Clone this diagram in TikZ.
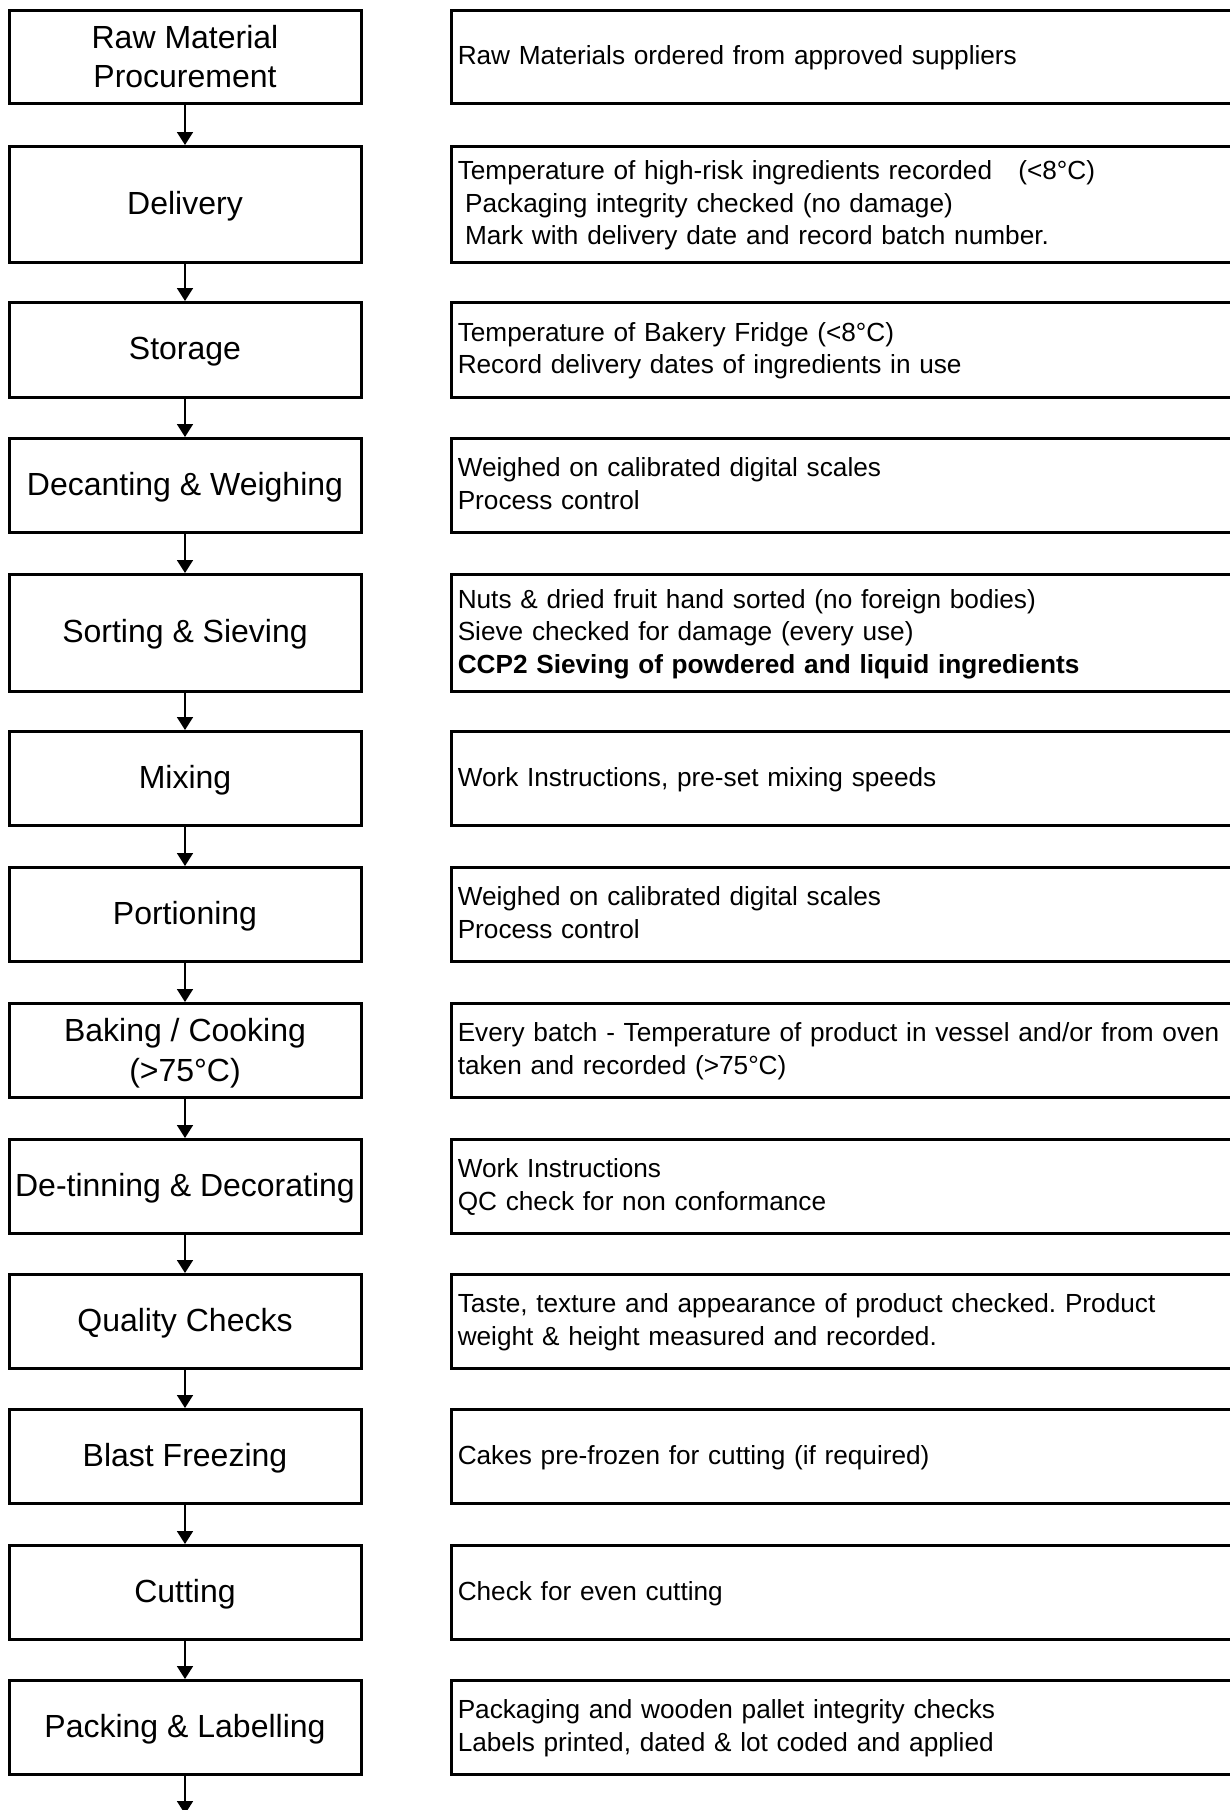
\documentclass[tikz,border=0pt]{standalone}
\usepackage{fontspec}
\setmainfont{Liberation Sans}
\frenchspacing
\usetikzlibrary{arrows.meta}
\newcommand\lfontsz{\fontsize{16pt}{19.8pt}\selectfont}
\newcommand\rfontsz{\fontsize{13.1pt}{16.3pt}\selectfont}
\newcommand\topstrut{\rule{0pt}{14.48pt}}
\newcommand\botstrut{\rule[-3.39pt]{0pt}{0pt}}
\tikzset{
  lmbox/.style={draw, line width=1.5pt, minimum width=176pt, inner sep=0pt,
    align=center, font=\lfontsz},
  lbox/.style={lmbox,
    execute at begin node={\rule{0pt}{13.2pt}},
    execute at end node={\rule[-3.39pt]{0pt}{0pt}}},
  rbox/.style={draw, line width=1.5pt, minimum width=394.25pt, inner xsep=2.1pt,
    inner ysep=0pt, text width=388pt, align=left, font=\rfontsz,
    execute at begin node={\rule{0pt}{10.6pt}},
    execute at end node={\rule[-3pt]{0pt}{0pt}}},
  flow/.style={line width=0.9pt, -{Triangle[length=6.5pt,width=8pt]}},
}
\newcommand\leadsp{\hspace*{0.278em}}
\begin{document}
\begin{tikzpicture}[x=0.5pt,y=-0.5pt]
\useasboundingbox (0,0) rectangle (1230,1810);
\fill[white] (0,0) rectangle (1230,1810);
\clip (0,0) rectangle (1230,1810);
% left boxes
\node[lmbox, minimum height=46.5pt] (b1) at (185,57) {\topstrut Raw Material\\Procurement\botstrut};
\node[lbox, minimum height=58pt] (b2) at (185,204.5) {Delivery};
\node[lbox, minimum height=47.5pt] (b3) at (185,350) {Storage};
\node[lbox, minimum height=47pt] (b4) at (185,485.5) {Decanting \& Weighing};
\node[lbox, minimum height=58.5pt] (b5) at (185,633) {Sorting \& Sieving};
\node[lbox, minimum height=47pt] (b6) at (185,778.5) {Mixing};
\node[lbox, minimum height=47pt] (b7) at (185,914.5) {Portioning};
\node[lmbox, minimum height=47pt] (b8) at (185,1050.5) {\topstrut Baking / Cooking\\(>75°C)\botstrut};
\node[lbox, minimum height=47pt] (b9) at (185,1186.5) {De-tinning \& Decorating};
\node[lbox, minimum height=47pt] (b10) at (185,1321.5) {Quality Checks};
\node[lbox, minimum height=47pt] (b11) at (185,1456.5) {Blast Freezing};
\node[lbox, minimum height=47pt] (b12) at (185,1592.5) {Cutting};
\node[lbox, minimum height=47pt] (b13) at (185,1727.5) {Packing \& Labelling};
% right boxes
\node[rbox, minimum height=46.5pt] (r1) at (845.75,57) {Raw Materials ordered from approved suppliers};
\node[rbox, minimum height=58pt] (r2) at (845.75,204.5) {Temperature of high-risk ingredients recorded\ \ \ (<8°C)\\\leadsp Packaging integrity checked (no damage)\\\leadsp Mark with delivery date and record batch number.};
\node[rbox, minimum height=47.5pt] (r3) at (845.75,350) {Temperature of Bakery Fridge (<8°C)\\Record delivery dates of ingredients in use};
\node[rbox, minimum height=47pt] (r4) at (845.75,485.5) {Weighed on calibrated digital scales\\Process control};
\node[rbox, minimum height=58.5pt] (r5) at (845.75,633) {Nuts \& dried fruit hand sorted (no foreign bodies)\\Sieve checked for damage (every use)\\\textbf{CCP2 Sieving of powdered and liquid ingredients}};
\node[rbox, minimum height=47pt] (r6) at (845.75,778.5) {Work Instructions, pre-set mixing speeds};
\node[rbox, minimum height=47pt] (r7) at (845.75,914.5) {Weighed on calibrated digital scales\\Process control};
\node[rbox, minimum height=47pt] (r8) at (845.75,1050.5) {Every batch - Temperature of product in vessel and/or from oven\\taken and recorded (>75°C)};
\node[rbox, minimum height=47pt] (r9) at (845.75,1186.5) {Work Instructions\\QC check for non conformance};
\node[rbox, minimum height=47pt] (r10) at (845.75,1321.5) {Taste, texture and appearance of product checked. Product\\weight \& height measured and recorded.};
\node[rbox, minimum height=47pt] (r11) at (845.75,1456.5) {Cakes pre-frozen for cutting (if required)};
\node[rbox, minimum height=47pt] (r12) at (845.75,1592.5) {Check for even cutting};
\node[rbox, minimum height=47pt] (r13) at (845.75,1727.5) {Packaging and wooden pallet integrity checks\\Labels printed, dated \& lot coded and applied};
% arrows
\foreach \a/\b in {b1/b2,b2/b3,b3/b4,b4/b5,b5/b6,b6/b7,b7/b8,b8/b9,b9/b10,b10/b11,b11/b12,b12/b13}
  \draw[flow] (\a.south) -- (\b.north);
\coordinate (end) at (185,1814);
\draw[flow] (b13.south) -- (end);
\end{tikzpicture}
\end{document}
